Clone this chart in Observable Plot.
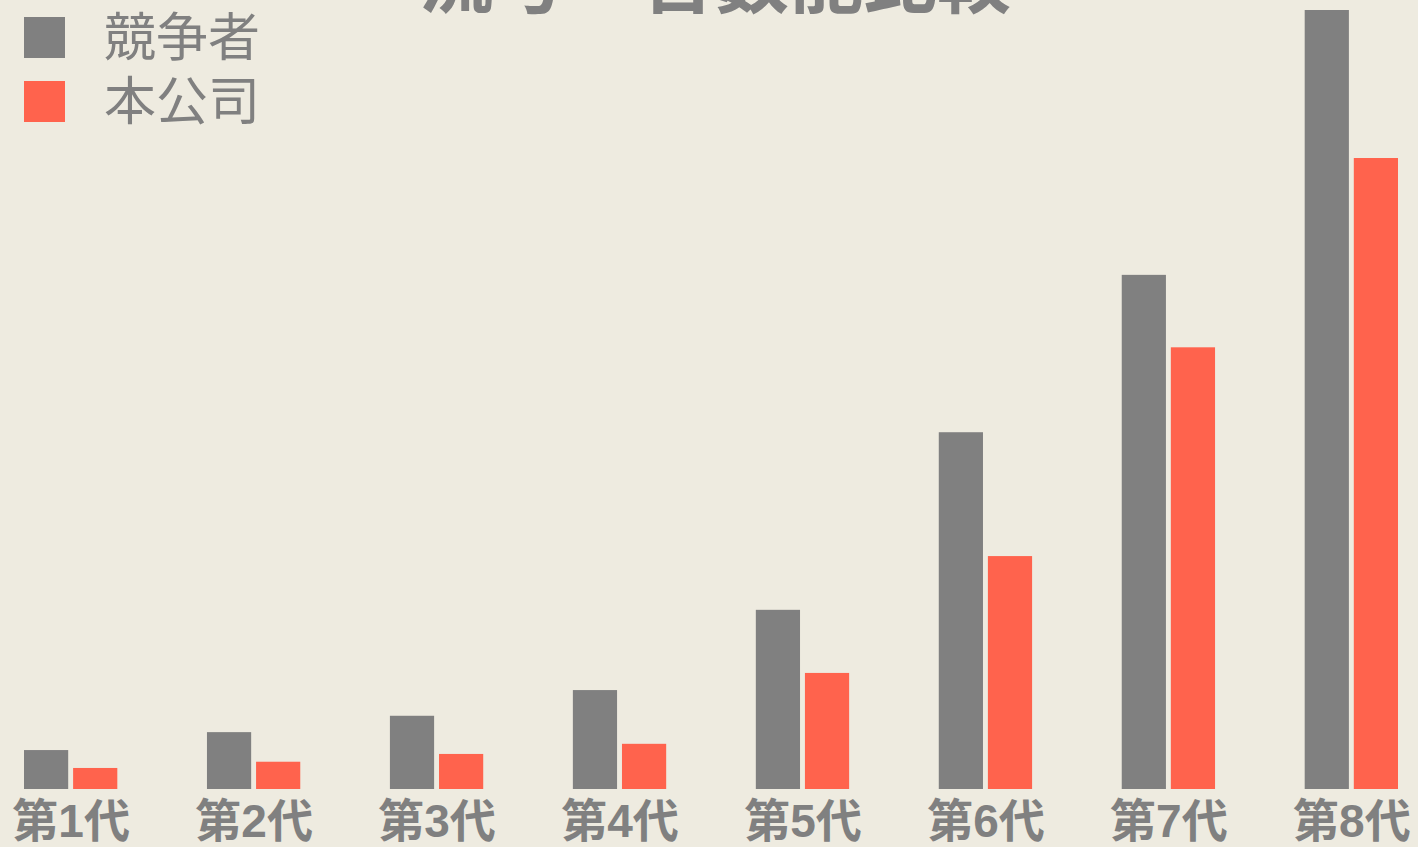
<!DOCTYPE html>
<html>
<head>
<meta charset="utf-8">
<script src="https://cdn.jsdelivr.net/npm/d3@7"></script>
<script src="https://cdn.jsdelivr.net/npm/@observablehq/plot@0.6"></script>
<style>
  html, body { margin: 0; padding: 0; background: #EEEBE0; overflow: hidden; }
  #wrap { position: relative; width: 1418px; height: 847px; }
  #title { position: absolute; left: 715px; top: -62px; transform: translateX(-50%); white-space: nowrap;
           font-family: "Noto Sans CJK JP", sans-serif; font-weight: bold; font-size: 74px; line-height: 74px; color: #808080; }
  .lg-sw { position: absolute; left: 24px; width: 41px; height: 41px; }
  .lg-tx { position: absolute; left: 104px; font-family: "Noto Sans CJK JP", sans-serif; font-size: 52px; line-height: 52px; color: #808080; white-space: nowrap; }
  #chart { position: absolute; left: 0; top: 0; }
</style>
</head>
<body>
<div id="wrap">
  <div id="chart"></div>
  <div id="title"></div>
  <div id="legend"></div>
</div>
<script>
const titleText = "流号　台数能比較";
const generations = ["第1代", "第2代", "第3代", "第4代", "第5代", "第6代", "第7代", "第8代"];
const seriesNames = ["競争者", "本公司"];
const seriesColors = ["#808080", "#FF634D"];
const competitor = [5.0, 7.3, 9.4, 12.7, 23.0, 45.8, 66.0, 100.0];
const ours = [2.7, 3.5, 4.5, 5.8, 14.9, 29.9, 56.7, 81.0];

const data = [];
generations.forEach((g, i) => {
  data.push({gen: g, series: seriesNames[0], value: competitor[i]});
  data.push({gen: g, series: seriesNames[1], value: ours[i]});
});

document.getElementById("title").textContent = titleText;

const legend = document.getElementById("legend");
seriesNames.forEach((name, i) => {
  const sw = document.createElement("div");
  sw.className = "lg-sw";
  sw.style.top = (17 + i * 64) + "px";
  sw.style.background = seriesColors[i];
  legend.appendChild(sw);
  const tx = document.createElement("div");
  tx.className = "lg-tx";
  tx.style.top = (8 + i * 64) + "px";
  tx.textContent = name;
  legend.appendChild(tx);
});

const chart = Plot.plot({
  width: 1418,
  height: 847,
  marginTop: 10,
  marginBottom: 58,
  marginLeft: 24,
  marginRight: 20,
  style: {background: "transparent", color: "#808080", overflow: "visible"},
  fx: {domain: generations, paddingInner: 0.49, paddingOuter: 0, round: false, label: null},
  x: {domain: seriesNames, paddingInner: 0.1, paddingOuter: 0, round: false, axis: null},
  y: {domain: [0, 100], axis: null},
  color: {domain: seriesNames, range: seriesColors},
  marks: [
    Plot.barY(data, {fx: "gen", x: "series", y: "value", fill: "series"}),
    Plot.axisFx({anchor: "bottom", tickSize: 0, tickPadding: 15, fontSize: 46, fontWeight: "bold",
                 fontFamily: "'Liberation Sans', 'Noto Sans CJK JP', sans-serif", label: null})
  ]
});
document.getElementById("chart").appendChild(chart);
</script>
</body>
</html>
